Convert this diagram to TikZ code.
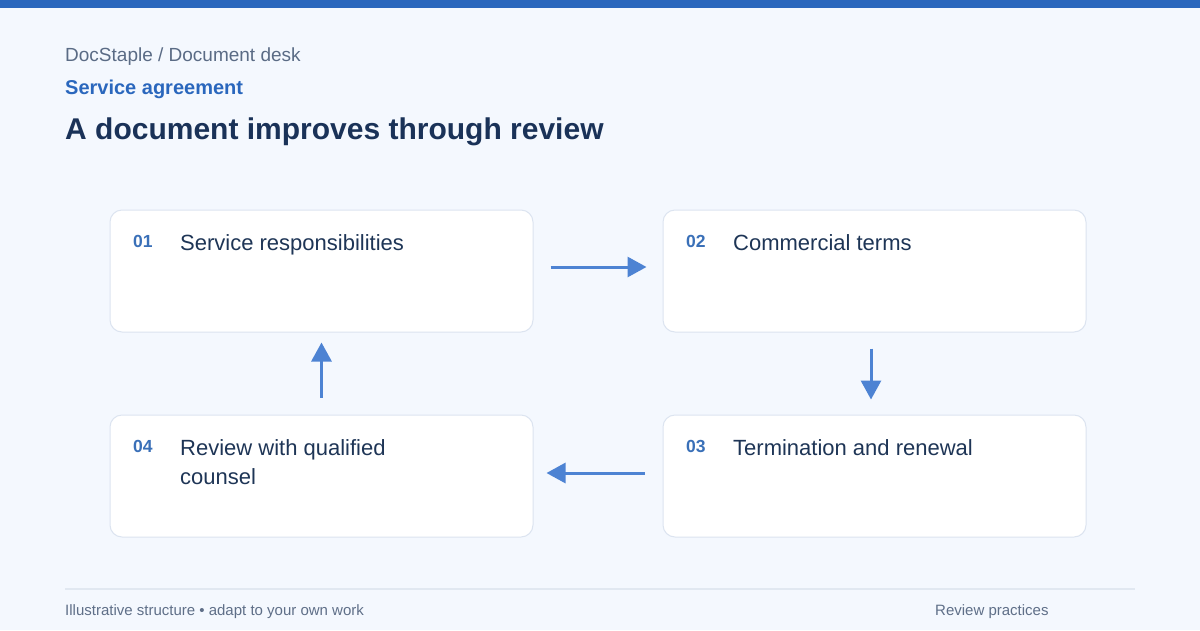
\documentclass[tikz,border=0pt]{standalone}
\usepackage{fontspec}
\setmainfont{Liberation Sans}
\usetikzlibrary{arrows.meta}
\definecolor{bg}{HTML}{F4F8FE}
\definecolor{topbar}{HTML}{2A67BD}
\definecolor{crumb}{HTML}{5A6B85}
\definecolor{navy}{HTML}{1A3258}
\definecolor{labelc}{HTML}{1E3556}
\definecolor{numc}{HTML}{3A70B8}
\definecolor{boxline}{HTML}{DCE4F0}
\definecolor{arrowc}{HTML}{4D83D3}
\definecolor{footc}{HTML}{5F6F88}
\definecolor{rulec}{HTML}{E1E8F1}
\tikzset{
  box/.style={draw=boxline, line width=1pt, fill=white, rounded corners=12pt,
    minimum width=423pt, minimum height=122pt, inner sep=0pt},
  num/.style={anchor=base west, inner sep=0pt, text=numc, font=\fontsize{17.5}{20}\selectfont\bfseries},
  lbl/.style={anchor=base west, inner sep=0pt, text=labelc, align=left,
    font=\fontsize{22}{29}\selectfont},
  flow/.style={draw=arrowc, line width=3pt, -{Triangle[length=19pt,width=20pt]}},
  txt/.style={anchor=base west, inner sep=0pt},
}
\begin{document}
\begin{tikzpicture}[x=1pt,y=-1pt]
\fill[bg] (0,0) rectangle (1200,630);
\useasboundingbox (0,0) rectangle (1200,630);
\fill[topbar] (0,0) rectangle (1200,8);
\node[txt, text=crumb, font=\fontsize{19}{22}\selectfont] (crumb) at (65,61) {DocStaple / Document desk};
\node[txt, text=topbar, font=\fontsize{20}{24}\selectfont\bfseries] (kicker) at (65,94) {Service agreement};
\node[txt, text=navy, font=\fontsize{30}{34}\selectfont\bfseries] (title) at (65,139) {A document improves through review};

\node[box] (b1) at (321.5,271) {};
\node[box] (b2) at (874.5,271) {};
\node[box] (b3) at (874.5,476) {};
\node[box] (b4) at (321.5,476) {};

\node[num] (n1) at (133,247) {01};
\node[lbl] (l1) at (180,250) {Service responsibilities};
\node[num] (n2) at (686,247) {02};
\node[lbl] (l2) at (733,250) {Commercial terms};
\node[num] (n3) at (686,452) {03};
\node[lbl] (l3) at (733,455) {Termination and renewal};
\node[num] (n4) at (133,452) {04};
\node[lbl] (l4) at (180,484) {Review with qualified\\counsel};

\draw[flow, shorten <=17pt, shorten >=16pt] ([yshift=4pt]b1.east) -- ([yshift=4pt]b2.west);
\draw[flow, shorten <=16pt, shorten >=15pt] ([xshift=-3.5pt]b2.south) -- ([xshift=-3.5pt]b3.north);
\draw[flow, shorten <=18pt, shorten >=13pt] ([yshift=3pt]b3.west) -- ([yshift=3pt]b4.east);
\draw[flow, shorten <=17pt, shorten >=10pt] (b4.north) -- (b1.south);

\draw[rulec, line width=2pt] (65,589) -- (1135,589);
\node[txt, text=footc, font=\fontsize{15}{17}\selectfont] (f1) at (65,615) {Illustrative structure • adapt to your own work};
\node[txt, text=footc, font=\fontsize{15}{17}\selectfont] (f2) at (935,615) {Review practices};
\end{tikzpicture}
\end{document}
